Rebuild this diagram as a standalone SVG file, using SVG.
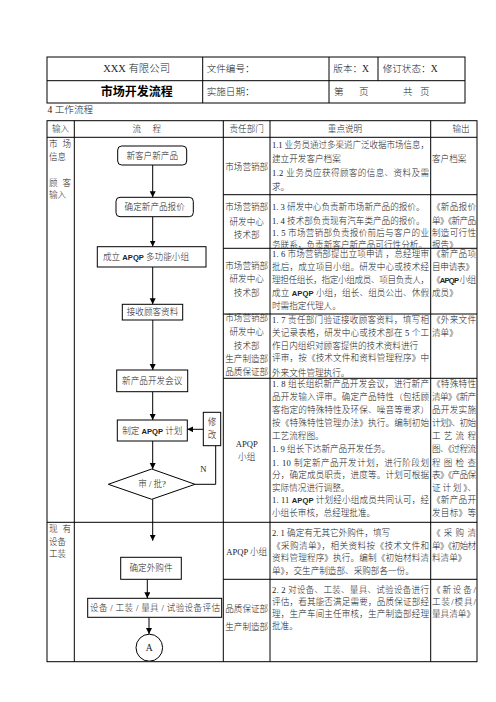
<svg xmlns="http://www.w3.org/2000/svg" width="496" height="702" viewBox="0 0 496 702">
<style>
.t{font-family:"Liberation Serif","Noto Sans CJK SC",serif;font-size:8.6px;fill:#222;font-weight:300}
.h{font-size:9.6px}
.c{text-anchor:middle}
.b{font-family:"Liberation Sans","Noto Sans CJK SC",sans-serif;font-weight:bold;font-size:7.6px}
.ln{stroke:#000;stroke-width:1;fill:none}
.sh{stroke:#000;stroke-width:1;fill:#fff}
.ar{stroke:#000;stroke-width:1;fill:none;marker-end:url(#ah)}
</style>
<defs>
<marker id="ah" markerUnits="userSpaceOnUse" markerWidth="8" markerHeight="8" refX="6" refY="3" orient="auto">
<path d="M0,0 L6,3 L0,6 z" fill="#000"/>
</marker>
</defs>
<rect width="496" height="702" fill="#fff"/>

<g id="header">
<rect x="47" y="57" width="418" height="46" class="ln"/>
<line x1="47" y1="80.7" x2="465" y2="80.7" class="ln"/>
<line x1="202.7" y1="57" x2="202.7" y2="103" class="ln"/>
<line x1="329" y1="57" x2="329" y2="103" class="ln"/>
<line x1="378" y1="57" x2="378" y2="80.7" class="ln"/>
<text x="136.7" y="72" class="t c" style="font-size:10.4px">XXX 有限公司</text>
<text x="136.7" y="96" class="c" style="font-family:'Noto Sans CJK SC',sans-serif;font-weight:bold;font-size:12px;fill:#000">市场开发流程</text>
<text x="206.7" y="72" class="t h">文件编号：</text>
<text x="333.3" y="72" class="t h">版本：X</text>
<text x="382.7" y="72" class="t h">修订状态：X</text>
<text x="206.7" y="95" class="t h">实施日期：</text>
<text x="334" y="95" class="t h">第</text>
<text x="359" y="95" class="t h">页</text>
<text x="403" y="95" class="t h">共</text>
<text x="420" y="95" class="t h">页</text>
<text x="47.5" y="112.5" class="t h">4 工作流程</text>
</g>

<g id="table">
<rect x="47" y="120.7" width="430" height="541" class="ln"/>
<line x1="74.3" y1="120.7" x2="74.3" y2="661.7" class="ln"/>
<line x1="223.3" y1="120.7" x2="223.3" y2="661.7" class="ln"/>
<line x1="270" y1="120.7" x2="270" y2="661.7" class="ln"/>
<line x1="430.7" y1="120.7" x2="430.7" y2="661.7" class="ln"/>
<line x1="47" y1="137.3" x2="477" y2="137.3" class="ln"/>
<line x1="223.3" y1="194.7" x2="477" y2="194.7" class="ln"/>
<line x1="223.3" y1="248.3" x2="477" y2="248.3" class="ln"/>
<line x1="223.3" y1="314" x2="477" y2="314" class="ln"/>
<line x1="223.3" y1="378.3" x2="477" y2="378.3" class="ln"/>
<line x1="47" y1="522.3" x2="477" y2="522.3" class="ln"/>
<line x1="223.3" y1="579.3" x2="477" y2="579.3" class="ln"/>
<text x="60.6" y="132" class="t c">输入</text>
<text x="136.7" y="132" class="t c">流</text>
<text x="156.7" y="132" class="t c">程</text>
<text x="246.7" y="132" class="t c">责任部门</text>
<text x="345" y="132" class="t c">重点说明</text>
<text x="461" y="132" class="t c">输出</text>
</g>

<g id="input">
<text x="49" y="147.4" class="t" textLength="22" lengthAdjust="spacing">市场</text>
<text x="49" y="160.4" class="t">信息</text>
<text x="49" y="185.8" class="t" textLength="22" lengthAdjust="spacing">顾客</text>
<text x="49" y="198.1" class="t">输入</text>
<text x="49" y="532.4" class="t" textLength="22" lengthAdjust="spacing">现有</text>
<text x="49" y="544.8" class="t">设备</text>
<text x="49" y="557.4" class="t">工装</text>
</g>

<g id="dept">
<text x="246.7" y="169.8" class="t c">市场营销部</text>
<text x="246.7" y="210.1" class="t c">市场营销部</text>
<text x="246.7" y="224.8" class="t c">研发中心</text>
<text x="246.7" y="238.1" class="t c">技术部</text>
<text x="246.7" y="268.8" class="t c">市场营销部</text>
<text x="246.7" y="282.4" class="t c">研发中心</text>
<text x="246.7" y="296.4" class="t c">技术部</text>
<text x="246.7" y="321.4" class="t c">市场营销部</text>
<text x="246.7" y="335.4" class="t c">研发中心</text>
<text x="246.7" y="349.1" class="t c">技术部</text>
<text x="246.7" y="362.1" class="t c">生产制造部</text>
<text x="246.7" y="375.2" class="t c">品质保证部</text>
<text x="246.7" y="447.1" class="t c">APQP</text>
<text x="246.7" y="460.4" class="t c">小组</text>
<text x="246.7" y="554.8" class="t c">APQP 小组</text>
<text x="246.7" y="612.4" class="t c">品质保证部</text>
<text x="246.7" y="629.8" class="t c">生产制造部</text>
</g>

<g id="desc">
<text x="272" y="148.1" class="t" textLength="157" lengthAdjust="spacing">1.1 业务员通过多渠道广泛收据市场信息，</text>
<text x="272" y="162.4" class="t">建立开发客户档案</text>
<text x="272" y="176.4" class="t" textLength="157" lengthAdjust="spacing">1.2  业务员应获得顾客的信息、资料及需</text>
<text x="272" y="189.8" class="t">求。</text>

<text x="272" y="210.4" class="t">1. 3 研发中心负责新市场新产品的报价。</text>
<text x="272" y="223.8" class="t">1. 4 技术部负责现有汽车类产品的报价。</text>
<text x="272" y="236.4" class="t" textLength="157" lengthAdjust="spacing">1. 5 市场营销部负责报价前后与客户的业</text>
<text x="272" y="247.6" class="t" textLength="155" lengthAdjust="spacing">务联系，负责新客户新产品可行性分析。</text>

<text x="272" y="257.1" class="t" textLength="157" lengthAdjust="spacing">1. 6 市场营销部提出立项申请 ，总经理审</text>
<text x="272" y="269.8" class="t" textLength="157" lengthAdjust="spacing">批后，成立项目小组。研发中心或技术经</text>
<text x="272" y="283.1" class="t" textLength="157" lengthAdjust="spacing">理担任组长，指定小组成员、项目负责人，</text>
<text x="272" y="296.4" class="t" textLength="157" lengthAdjust="spacing">成立  <tspan class="b">APQP</tspan>  小组，组长、组员公出、休假</text>
<text x="272" y="308.8" class="t">时需指定代理人。</text>

<text x="272" y="323.1" class="t" textLength="157" lengthAdjust="spacing">1. 7 责任部门验证接收顾客资料，填写相</text>
<text x="272" y="335.8" class="t" textLength="157" lengthAdjust="spacing">关记录表格，研发中心或技术部在 5 个工</text>
<text x="272" y="349.1" class="t">作日内组织对顾客提供的技术资料进行</text>
<text x="272" y="361.4" class="t" textLength="157" lengthAdjust="spacing">评审，按《技术文件和资料管理程序》中</text>
<text x="272" y="375.8" class="t">外来文件管理执行。</text>

<text x="272" y="387.1" class="t" textLength="157" lengthAdjust="spacing">1. 8 组长组织新产品开发会议，进行新产</text>
<text x="272" y="400.4" class="t" textLength="157" lengthAdjust="spacing">品开发输入评审。确定产品特性（包括顾</text>
<text x="272" y="413.1" class="t" textLength="157" lengthAdjust="spacing">客指定的特殊特性及环保、噪音等要求）</text>
<text x="272" y="425.8" class="t" textLength="157" lengthAdjust="spacing">按《特殊特性管理办法》执行。编制初始</text>
<text x="272" y="439.1" class="t">工艺流程图。</text>
<text x="272" y="452.4" class="t">1. 9 组长下达新产品开发任务。</text>
<text x="272" y="465.8" class="t" textLength="157" lengthAdjust="spacing">1. 10  制定新产品开发计划，进行阶段划</text>
<text x="272" y="478.1" class="t" textLength="157" lengthAdjust="spacing">分，确定成员职责，进度等。计划可根据</text>
<text x="272" y="490.8" class="t">实际情况进行调整。</text>
<text x="272" y="503.1" class="t" textLength="157" lengthAdjust="spacing">1. 11  <tspan class="b">APQP</tspan>  计划经小组成员共同认可，经</text>
<text x="272" y="515.8" class="t">小组长审核，总经理批准。</text>

<text x="272" y="536.4" class="t">2. 1 确定有无其它外购件，填写</text>
<text x="272" y="549.1" class="t" textLength="157" lengthAdjust="spacing">《采购清单》，相关资料按《技术文件和</text>
<text x="272" y="561.4" class="t" textLength="157" lengthAdjust="spacing">资料管理程序》执行。编制《初始材料清</text>
<text x="272" y="573.8" class="t">单》，交生产制造部、采购部各一份。</text>

<text x="272" y="593.1" class="t" textLength="157" lengthAdjust="spacing">2. 2  对设备、工装、量具、试验设备进行</text>
<text x="272" y="604.8" class="t" textLength="157" lengthAdjust="spacing">评估，看其能否满足需要，品质保证部经</text>
<text x="272" y="617.1" class="t" textLength="157" lengthAdjust="spacing">理，生产车间主任审核，生产制造部经理</text>
<text x="272" y="629.1" class="t">批准。</text>
</g>

<g id="output">
<text x="432" y="162.4" class="t">客户档案</text>
<text x="432" y="210.4" class="t" textLength="44" lengthAdjust="spacing">《新品报价</text>
<text x="432" y="223.8" class="t" textLength="44" lengthAdjust="spacing">单》《新产品</text>
<text x="432" y="236.4" class="t" textLength="44" lengthAdjust="spacing">制造可行性</text>
<text x="432" y="247.6" class="t">报告》</text>
<text x="432" y="257.1" class="t" textLength="44" lengthAdjust="spacing">《新产品项</text>
<text x="432" y="269.8" class="t" textLength="42" lengthAdjust="spacing">目申请表》</text>
<text x="432" y="283.1" class="t" textLength="44" lengthAdjust="spacing">《<tspan class="b">APQP</tspan> 小组</text>
<text x="432" y="296.4" class="t">成员》</text>
<text x="432" y="323.1" class="t" textLength="44" lengthAdjust="spacing">《外来文件</text>
<text x="432" y="335.8" class="t">清单》</text>
<text x="432" y="387.1" class="t" textLength="44" lengthAdjust="spacing">《特殊特性</text>
<text x="432" y="400.4" class="t" textLength="44" lengthAdjust="spacing">清单》《新产</text>
<text x="432" y="413.1" class="t" textLength="44" lengthAdjust="spacing">品开发实施</text>
<text x="432" y="425.8" class="t" textLength="44" lengthAdjust="spacing">计划》、初始</text>
<text x="432" y="439.1" class="t" textLength="44" lengthAdjust="spacing">工 艺 流 程</text>
<text x="432" y="452.4" class="t" textLength="44" lengthAdjust="spacing">图、《过程流</text>
<text x="432" y="465.8" class="t" textLength="44" lengthAdjust="spacing">程 图 检 查</text>
<text x="432" y="478.1" class="t" textLength="44" lengthAdjust="spacing">表》《产品保</text>
<text x="432" y="490.8" class="t" textLength="44" lengthAdjust="spacing">证 计 划 》、</text>
<text x="432" y="503.1" class="t" textLength="44" lengthAdjust="spacing">《新产品开</text>
<text x="432" y="515.8" class="t" textLength="44" lengthAdjust="spacing">发目标》等</text>
<text x="432" y="536.4" class="t" textLength="44" lengthAdjust="spacing">《 采 购 清</text>
<text x="432" y="549.1" class="t" textLength="44" lengthAdjust="spacing">单》《初始材</text>
<text x="432" y="561.4" class="t">料清单》</text>
<text x="432" y="593.1" class="t" textLength="44" lengthAdjust="spacing">《 新 设 备 /</text>
<text x="432" y="604.8" class="t" textLength="44" lengthAdjust="spacing">工装/模具/</text>
<text x="432" y="617.1" class="t">量具清单》</text>
</g>

<g id="connectors">
<line x1="152.7" y1="165" x2="152.7" y2="197.3" class="ar"/>
<line x1="152.7" y1="216.7" x2="152.7" y2="246.5" class="ar"/>
<line x1="152.7" y1="267" x2="152.7" y2="304.3" class="ar"/>
<line x1="152.7" y1="320" x2="152.7" y2="370" class="ar" style="stroke:#555;stroke-width:1.4"/>
<line x1="152.7" y1="391.7" x2="152.7" y2="420" class="ar"/>
<line x1="203.3" y1="429.3" x2="187.3" y2="429.3" class="ar"/>
<line x1="152.7" y1="441" x2="152.7" y2="469" class="ar"/>
<polyline points="195,484.3 215.7,484.3 215.7,445.7" class="ln"/>
<line x1="152.7" y1="499.3" x2="152.7" y2="540.7" class="ar"/>
<line x1="147.3" y1="579.3" x2="147.3" y2="598.3" class="ar"/>
<line x1="149" y1="617.3" x2="149" y2="634" class="ar"/>
<text x="203.3" y="472.3" class="t c">N</text>
</g>

<g id="n1"><rect x="117.7" y="146" width="69" height="19" rx="4" class="sh"/><text x="152.2" y="159.2" class="t c">新客户新产品</text></g>
<g id="n2"><rect x="116" y="197.3" width="77.3" height="19.4" rx="4" class="sh"/><text x="154.7" y="210.2" class="t c">确定新产品报价</text></g>
<g id="n3"><rect x="97.3" y="246.7" width="108.7" height="20.3" class="sh"/><text x="103" y="260" class="t">成立 <tspan class="b">APQP</tspan> 多功能小组</text></g>
<g id="n4"><rect x="122.3" y="304.3" width="60.4" height="15.7" class="sh"/><text x="152.5" y="315.3" class="t c">接收顾客资料</text></g>
<g id="n5"><rect x="116.7" y="370" width="71" height="21.7" class="sh"/><text x="152.2" y="384.1" class="t c">新产品开发会议</text></g>
<g id="n6"><rect x="117.3" y="420" width="70" height="21" class="sh"/><text x="152.3" y="433.6" class="t c">制定 <tspan class="b">APQP</tspan> 计划</text></g>
<g id="n7"><rect x="203.3" y="412.3" width="17.4" height="33.4" class="sh"/><text x="212" y="424.8" class="t c">修</text><text x="212" y="438.1" class="t c">改</text></g>
<g id="n8"><polygon points="151.7,469 195,484.3 151.7,499.3 108.3,484.3" class="sh"/><text x="152" y="487.4" class="t c">审 / 批?</text></g>
<g id="n9"><rect x="120.7" y="557.3" width="60.6" height="22" class="sh"/><text x="151" y="571.4" class="t c">确定外购件</text></g>
<g id="n10"><rect x="87.7" y="598.3" width="134" height="19" class="sh"/><text x="90" y="610.9" class="t" textLength="130" lengthAdjust="spacing">设备 / 工装 / 量具 / 试验设备评估</text></g>
<g id="n11"><ellipse cx="149.3" cy="647.7" rx="13.3" ry="13.5" class="sh"/><text x="149.3" y="651" class="t c" style="font-size:9.6px">A</text></g>
</svg>
